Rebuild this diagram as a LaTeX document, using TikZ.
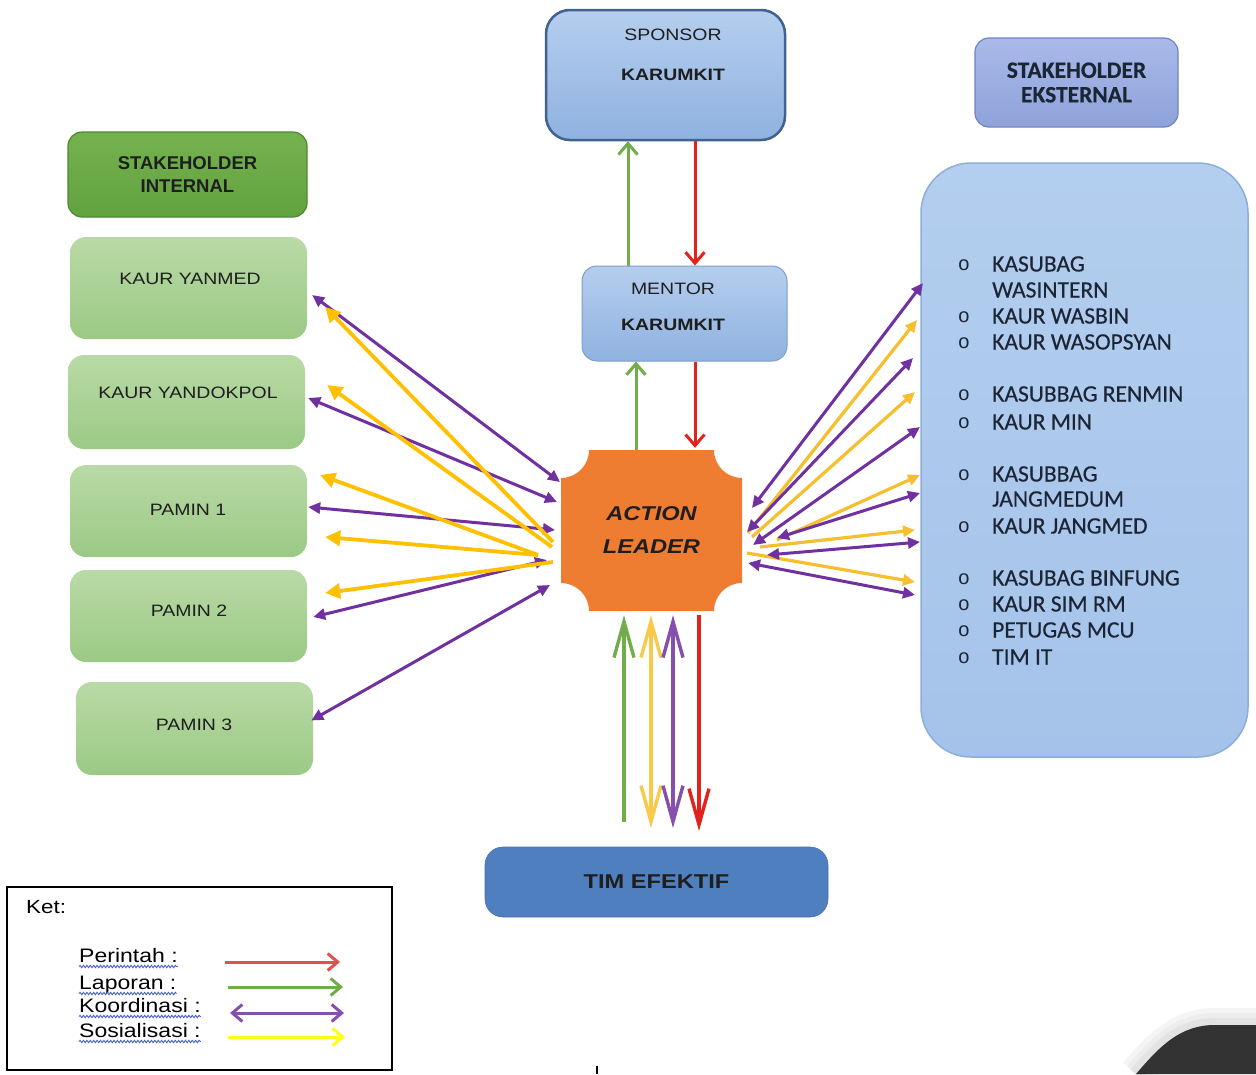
\documentclass[tikz,border=0pt]{standalone}
\usepackage{fontspec}
\setmainfont{Liberation Sans}
\newfontfamily\wsf[FakeStretch=1.18]{Liberation Sans}
\newfontfamily\calf[FakeBold=0.35]{Carlito}
\usetikzlibrary{arrows.meta,calc,decorations.pathmorphing}
\definecolor{txt}{HTML}{1E1E1E}
\definecolor{sponL}{HTML}{41618F}
\definecolor{blueT}{HTML}{B5CEEE}
\definecolor{blueB}{HTML}{8FB2E0}
\definecolor{menL}{HTML}{7B9FCE}
\definecolor{ekT}{HTML}{A9BAE9}
\definecolor{ekB}{HTML}{8EA2DA}
\definecolor{ekL}{HTML}{6E84C2}
\definecolor{extT}{HTML}{B3CEEE}
\definecolor{extB}{HTML}{A5C3EA}
\definecolor{extL}{HTML}{8CAEDC}
\definecolor{intT}{HTML}{74B24E}
\definecolor{intB}{HTML}{62A23F}
\definecolor{intL}{HTML}{4E8833}
\definecolor{grT}{HTML}{B9DAA6}
\definecolor{grB}{HTML}{9CC985}
\definecolor{orng}{HTML}{EE7D31}
\definecolor{timF}{HTML}{4F7FBF}
\definecolor{aRed}{HTML}{E2231B}
\definecolor{aGreen}{HTML}{71AD4B}
\definecolor{aPurp}{HTML}{7030A0}
\definecolor{aYelL}{HTML}{FFC000}
\definecolor{aYelR}{HTML}{F5BF2E}
\definecolor{aYelB}{HTML}{F8C94A}
\definecolor{lRed}{HTML}{E0504E}
\definecolor{lGreen}{HTML}{70AD47}
\definecolor{lYel}{HTML}{FFFF1A}
\definecolor{wavy}{HTML}{4A5FD0}
\definecolor{listc}{HTML}{1C2535}
\begin{document}
\begin{tikzpicture}[x=1pt,y=1pt,
  greenbox/.style={top color=grT,bottom color=grB,draw=none,rounded corners=16pt,
    minimum width=237pt,inner sep=0},
  boxtxt/.style={font=\wsf\fontsize{16.5}{18}\selectfont,text=txt,inner sep=0,
    text height=11.8pt,text depth=0pt},
  listtxt/.style={font=\calf\fontsize{23.5}{26}\selectfont,text=listc,inner sep=0,
    text height=15pt,text depth=0pt,anchor=west},
  bul/.style={font=\fontsize{20}{20}\selectfont,text=listc,inner sep=0},
  legtxt/.style={font=\wsf\fontsize{19.5}{20}\selectfont,text=black,inner sep=0,anchor=base west},
  barb/.style={line width=3pt,-{Straight Barb[length=11pt,width=19pt]}},
  longbarb/.style={line width=3.4pt,-{Straight Barb[length=36pt,width=20pt]}},
  dlongbarb/.style={line width=3.4pt,{Straight Barb[length=36pt,width=20pt]}-{Straight Barb[length=36pt,width=20pt]}},
  coord/.style={line width=3pt,draw=aPurp,{Triangle[length=12pt,width=11pt]}-{Triangle[length=12pt,width=11pt]}},
  sosL/.style={line width=3.8pt,draw=aYelL,-{Triangle[length=15pt,width=15pt]}},
  sosR/.style={line width=3.2pt,draw=aYelR,-{Triangle[length=12pt,width=11pt]}},
  legarrow/.style={line width=3pt,-{Straight Barb[length=10pt,width=17pt]}},
  legdarrow/.style={line width=3pt,{Straight Barb[length=10pt,width=17pt]}-{Straight Barb[length=10pt,width=17pt]}},
  squiggle/.style={draw=wavy,line width=0.9pt,decorate,decoration={snake,amplitude=1.2pt,segment length=3.4pt}}
]
\useasboundingbox (0,0) rectangle (1256,-1074);
\fill[white] (0,0) rectangle (1256,-1074);

% ---------- top boxes ----------
\node[draw=sponL,line width=2.5pt,rounded corners=24pt,top color=blueT,bottom color=blueB,
  minimum width=239pt,minimum height=130pt,inner sep=0] (sponsor) at (665.5,-75) {};
\node[boxtxt] (sponsorT) at (673,-35) {SPONSOR};
\node[boxtxt,font=\wsf\bfseries\fontsize{16.5}{18}\selectfont] (sponsorK) at (673,-75) {KARUMKIT};

\node[draw=menL,line width=1pt,rounded corners=15pt,top color=blueT,bottom color=blueB,
  minimum width=205pt,minimum height=95pt,inner sep=0] (mentor) at (684.5,-313.5) {};
\node[boxtxt] (mentorT) at (673,-289) {MENTOR};
\node[boxtxt,font=\wsf\bfseries\fontsize{16.5}{18}\selectfont] (mentorK) at (673,-325) {KARUMKIT};

\node[draw=ekL,line width=1.2pt,rounded corners=14pt,top color=ekT,bottom color=ekB,
  minimum width=203pt,minimum height=89pt,inner sep=0,align=center,text=listc,
  font=\calf\bfseries\fontsize{23.5}{24.5}\selectfont] (ekst) at (1076.5,-82.5) {STAKEHOLDER\\EKSTERNAL};

% ---------- big external box ----------
\node[draw=extL,line width=1.5pt,rounded corners=50pt,top color=extT,bottom color=extB,
  minimum width=327pt,minimum height=594pt,inner sep=0] (ext) at (1084.5,-460) {};
\foreach \yy/\tt/\bb in {264/KASUBAG/1,290/WASINTERN/0,316/KAUR WASBIN/1,342/KAUR WASOPSYAN/1,
  394/KASUBBAG RENMIN/1,422/KAUR MIN/1,474/KASUBBAG/1,499/JANGMEDUM/0,526/KAUR JANGMED/1,
  578/KASUBAG BINFUNG/1,604/KAUR SIM RM/1,630/PETUGAS MCU/1,657/TIM IT/1}{
  \node[listtxt] (li\yy) at (992,-\yy) {\tt};
  \ifnum\bb=1 \node[bul] (bu\yy) at (964,-\yy-1) {o};\fi
}

% ---------- internal ----------
\node[draw=intL,line width=1.2pt,rounded corners=14pt,top color=intT,bottom color=intB,
  minimum width=239pt,minimum height=85pt,inner sep=0,align=center,text=txt,
  font=\bfseries\fontsize{18.5}{23}\selectfont] (int) at (187.5,-174.5) {STAKEHOLDER\\INTERNAL};

\node[greenbox,minimum height=102pt] (ky) at (188.5,-288) {};
\node[boxtxt] (kyT) at (190,-279) {KAUR YANMED};
\node[greenbox,minimum height=94pt] (kyd) at (186.5,-402) {};
\node[boxtxt] (kydT) at (188,-393) {KAUR YANDOKPOL};
\node[greenbox,minimum height=92pt] (p1) at (188.5,-511) {};
\node[boxtxt] (p1T) at (188,-510) {PAMIN 1};
\node[greenbox,minimum height=92pt] (p2) at (188.5,-616) {};
\node[boxtxt] (p2T) at (189,-611) {PAMIN 2};
\node[greenbox,minimum height=93pt] (p3) at (194.5,-728.5) {};
\node[boxtxt] (p3T) at (194,-725) {PAMIN 3};

% ---------- action leader ----------
\def\rr{28}
\fill[orng] (561+\rr,-450) -- (742-\rr,-450) arc[start angle=180,end angle=270,radius=\rr]
  -- (742,-611+\rr) arc[start angle=90,end angle=180,radius=\rr]
  -- (561+\rr,-611) arc[start angle=0,end angle=90,radius=\rr]
  -- (561,-450-\rr) arc[start angle=270,end angle=360,radius=\rr] -- cycle;
\node[inner sep=0,minimum width=181pt,minimum height=161pt,align=center,text=txt,
  font=\wsf\bfseries\itshape\fontsize{20}{33}\selectfont] (al) at (651.5,-530.5) {ACTION\\LEADER};

% ---------- tim efektif ----------
\node[fill=timF,draw=timF!90!black,line width=0.6pt,rounded corners=18pt,minimum width=343pt,
  minimum height=70pt,inner sep=0,text=txt,font=\wsf\bfseries\fontsize{20}{22}\selectfont] (tim) at (656.5,-882) {TIM EFEKTIF};

% ---------- vertical connectors ----------
\coordinate (xg1) at (628,0);
\coordinate (xr1) at (695,0);
\coordinate (xg2) at (636,0);
\draw[barb,aGreen] (xg1 |- mentor.north) -- (xg1 |- sponsor.south);
\draw[barb,aRed] (xr1 |- sponsor.south) -- (xr1 |- mentor.north);
\draw[barb,aGreen] (xg2 |- al.north) -- (xg2 |- mentor.south);
\draw[barb,aRed] (xr1 |- mentor.south) -- ($(xr1 |- al.north)+(0,2)$);

\coordinate (bg) at (624,-822);
\coordinate (by) at (651,-828);
\coordinate (bp) at (673,-828);
\coordinate (br) at (699,-831);
\draw[longbarb,aGreen] (bg) -- ($(bg |- al.south)+(0,-4)$);
\draw[dlongbarb,aYelB] ($(by |- al.south)+(0,-4)$) -- (by);
\draw[dlongbarb,aPurp!85] ($(bp |- al.south)+(0,-4)$) -- (bp);
\draw[longbarb,aRed] ($(br |- al.south)+(0,-4)$) -- (br);

% ---------- left fan ----------
\coordinate (aL1) at (560,-482);
\coordinate (aL2) at (557,-502);
\coordinate (aL3) at (555,-530);
\coordinate (aL4) at (547,-560);
\coordinate (aL5) at (550,-585);
\draw[coord] ($(ky.east)+(5,-7)$) -- (aL1);
\draw[coord] ($(kyd.east)+(3,4)$) -- (aL2);
\draw[coord] ($(p1.east)+(1,4)$) -- (aL3);
\draw[coord] ($(p2.east)+(6,-1)$) -- (aL4);
\draw[coord] ($(p3.east)+(-2,8)$) -- (aL5);

\coordinate (sL1) at (553,-542);
\coordinate (sL2) at (552,-547);
\coordinate (sL3) at (538,-555);
\coordinate (sL5) at (553,-562);
\draw[sosL] (sL1) -- ($(ky.east)+(18,-19)$);
\draw[sosL] (sL2) -- ($(kyd.east)+(22,17)$);
\draw[sosL] (sL3) -- ($(p1.east)+(13,36)$);
\draw[sosL] (sL3) -- ($(p1.east)+(18,-26)$);
\draw[sosL] (sL5) -- ($(p2.east)+(18,23)$);

% ---------- right fan ----------
\coordinate (sR1) at (748,-533);
\coordinate (sR2) at (752,-537);
\coordinate (sR3) at (777,-540);
\coordinate (sR4) at (760,-547);
\coordinate (sR5) at (747,-553);
\coordinate (tR1) at (917,-320);
\coordinate (tR2) at (915,-392);
\coordinate (tR3) at (920,-475);
\coordinate (tR4) at (915,-530);
\coordinate (tR5) at (915,-582);
\draw[sosR] (sR1) -- (tR1);
\draw[sosR] (sR2) -- (tR2);
\draw[sosR] (sR3) -- (tR3);
\draw[sosR] (sR4) -- (tR4);
\draw[sosR] (sR5) -- (tR5);

\coordinate (aR1) at (752,-508);
\coordinate (aR2) at (747,-532);
\coordinate (aR3) at (753,-545);
\coordinate (aR4) at (777,-538);
\coordinate (aR5) at (767,-555);
\coordinate (aR6) at (748,-563);
\coordinate (uR1) at (923,-283);
\coordinate (uR2) at (913,-358);
\coordinate (uR3) at (920,-427);
\coordinate (uR4) at (920,-493);
\coordinate (uR5) at (920,-542);
\coordinate (uR6) at (915,-595);
\foreach \i in {1,...,6}{\draw[coord] (aR\i) -- (uR\i);}

% ---------- legend ----------
\node[draw=black,line width=1.4pt,fill=white,minimum width=385pt,minimum height=183pt,inner sep=0] (ket) at (199.5,-978.5) {};
\node[font=\wsf\fontsize{19}{20}\selectfont,inner sep=0,anchor=base west] (ketT) at (26,-913) {Ket:};
\node[legtxt] (lg1) at (79,-962) {Perintah :};
\node[legtxt] (lg2) at (79,-989) {Laporan :};
\node[legtxt] (lg3) at (79,-1012) {Koordinasi :};
\node[legtxt] (lg4) at (79,-1037) {Sosialisasi :};
\foreach \n in {1,2,3,4}{\draw[squiggle] ($(lg\n.base west)+(0,-4.5)$) -- ($(lg\n.base east)+(0,-4.5)$);}
\coordinate (lr0) at (225,-962);  \coordinate (lr1) at (340,-962);
\coordinate (lgA) at (228,-987);  \coordinate (lgB) at (343,-987);
\coordinate (lp0) at (230,-1013); \coordinate (lp1) at (344,-1013);
\coordinate (ly0) at (228,-1037); \coordinate (ly1) at (345,-1037);
\draw[legarrow,lRed] (lr0) -- (lr1);
\draw[legarrow,lGreen] (lgA) -- (lgB);
\draw[legdarrow,aPurp!85] (lp0) -- (lp1);
\draw[legarrow,lYel] (ly0) -- (ly1);

% ---------- page fragments ----------
\draw[black,line width=1.2pt] (597,-1066) -- (597,-1074);
\begin{scope}
\clip (0,0) rectangle (1256,-1074);
\foreach \w/\c in {34/4,24/7,14/11}{
  \draw[black!\c,line width=\w pt,line join=round] (1136,-1074) .. controls (1160,-1046) and (1180,-1025) .. (1215,-1025) -- (1256,-1025);}
\fill[black!80] (1136,-1074) .. controls (1160,-1046) and (1180,-1025) .. (1215,-1025) -- (1256,-1025) -- (1256,-1074) -- cycle;
\end{scope}
\end{tikzpicture}
\end{document}
